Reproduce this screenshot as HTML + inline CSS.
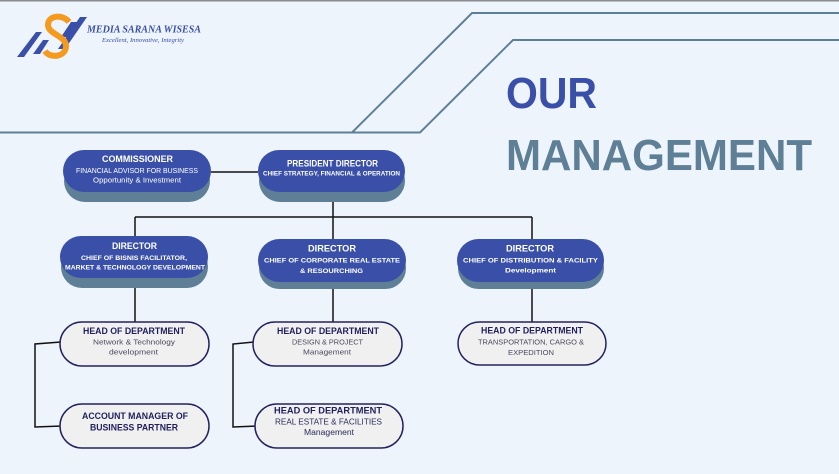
<!DOCTYPE html>
<html><head><meta charset="utf-8"><style>
html,body{margin:0;padding:0;background:#edf4fb;}
svg{display:block;}
</style></head><body>
<svg width="839" height="474" viewBox="0 0 839 474" xmlns="http://www.w3.org/2000/svg" font-family="Liberation Sans, sans-serif">
<rect x="0" y="0" width="839" height="474" fill="#edf4fb"/>
<rect x="0" y="0" width="839" height="1.5" fill="#8a8d90"/>
<!-- decorative lines -->
<path d="M0 132.5 H420 L513 40 H839" fill="none" stroke="#5f7f96" stroke-width="2"/>
<path d="M352 132.5 L472 13 H839" fill="none" stroke="#5f7f96" stroke-width="2"/>
<!-- logo -->
<polygon points="17,57 24,57 42,32 36,32" fill="#3a4fa8"/>
<polygon points="33,54 40,54 49,40 43,40" fill="#3a4fa8"/>
<polygon points="58,49 65,49 87,17 80,17" fill="#3a4fa8"/>
<polygon points="61,37 67,37 77,22 71,22" fill="#3a4fa8"/>
<path d="M69 22 C63 14,48 15,48 25 C48 34,66 36,66 46 C66 57,50 59,45 51" fill="none" stroke="#f39a1f" stroke-width="6"/>
<text x="87" y="32.5" style="font-family:'Liberation Serif',serif" font-style="italic" font-weight="bold" font-size="11" fill="#3a4fa8" textLength="114" lengthAdjust="spacingAndGlyphs">MEDIA SARANA WISESA</text>
<text x="102" y="42" style="font-family:'Liberation Serif',serif" font-style="italic" font-size="6.5" fill="#3a4fa8" textLength="82" lengthAdjust="spacingAndGlyphs">Excellent, Innovative, Integrity</text>
<!-- title -->
<text x="506" y="108" font-weight="bold" font-size="44" fill="#3a4fa8" textLength="91" lengthAdjust="spacingAndGlyphs">OUR</text>
<text x="506" y="170" font-weight="bold" font-size="44" fill="#5f7f96" textLength="306" lengthAdjust="spacingAndGlyphs">MANAGEMENT</text>
<!-- connectors -->
<g stroke="#111" stroke-width="1.5" fill="none">
<line x1="211" y1="172" x2="258" y2="172"/>
<line x1="333" y1="200" x2="333" y2="217"/>
<line x1="135" y1="217" x2="532" y2="217"/>
<line x1="135" y1="217" x2="135" y2="237"/>
<line x1="333" y1="217" x2="333" y2="240"/>
<line x1="532" y1="217" x2="532" y2="240"/>
<line x1="135" y1="287" x2="135" y2="322"/>
<line x1="333" y1="288" x2="333" y2="322"/>
<line x1="532" y1="288" x2="532" y2="322"/>
<polyline points="61,342 35,344 35,427 62,426"/>
<polyline points="254,342 233,344 233,427 257,426"/>
</g>
<!-- blue boxes with shadows -->
<g fill="#5f7f96">
<rect x="64" y="160" width="146" height="42" rx="21"/>
<rect x="259" y="160" width="146" height="42" rx="21"/>
<rect x="61" y="246" width="147" height="42" rx="21"/>
<rect x="259" y="248" width="147" height="41" rx="20.5"/>
<rect x="458" y="248" width="146" height="41" rx="20.5"/>
</g>
<g fill="#3a50a8">
<rect x="63" y="150" width="148" height="42" rx="21"/>
<rect x="258" y="150" width="147" height="42" rx="21"/>
<rect x="60" y="236" width="148" height="42" rx="21"/>
<rect x="258" y="239" width="148" height="43" rx="21.5"/>
<rect x="457" y="239" width="147" height="43" rx="21.5"/>
</g>
<!-- head boxes -->
<g fill="#f1f0f0" stroke="#24235e" stroke-width="1.5">
<rect x="60" y="322" width="149" height="44" rx="22"/>
<rect x="253" y="322" width="149" height="44" rx="22"/>
<rect x="458" y="322" width="148" height="43" rx="21.5"/>
<rect x="60" y="404" width="149" height="44" rx="22"/>
<rect x="255" y="404" width="148" height="44" rx="22"/>
</g>
<!-- blue box text -->
<g fill="#ffffff" font-weight="bold">
<text x="102" y="162" font-size="9.5" textLength="71" lengthAdjust="spacingAndGlyphs">COMMISSIONER</text>
<text x="76" y="173" font-size="7" font-weight="normal" textLength="122" lengthAdjust="spacingAndGlyphs">FINANCIAL ADVISOR FOR BUSINESS</text>
<text x="93" y="182.5" font-size="7" font-weight="normal" textLength="88" lengthAdjust="spacingAndGlyphs">Opportunity &amp; Investment</text>
<text x="287" y="166.5" font-size="9.5" textLength="91" lengthAdjust="spacingAndGlyphs">PRESIDENT DIRECTOR</text>
<text x="263" y="175.5" font-size="6.5" textLength="137" lengthAdjust="spacingAndGlyphs">CHIEF STRATEGY, FINANCIAL &amp; OPERATION</text>
<text x="112" y="249" font-size="9.5" textLength="45" lengthAdjust="spacingAndGlyphs">DIRECTOR</text>
<text x="81" y="260" font-size="6.8" textLength="106" lengthAdjust="spacingAndGlyphs">CHIEF OF BISNIS FACILITATOR,</text>
<text x="65" y="269.5" font-size="6.8" textLength="140" lengthAdjust="spacingAndGlyphs">MARKET &amp; TECHNOLOGY DEVELOPMENT</text>
<text x="308" y="251.5" font-size="9.5" textLength="48" lengthAdjust="spacingAndGlyphs">DIRECTOR</text>
<text x="264" y="262.5" font-size="6.8" textLength="136" lengthAdjust="spacingAndGlyphs">CHIEF OF CORPORATE REAL ESTATE</text>
<text x="300" y="273" font-size="6.8" textLength="63" lengthAdjust="spacingAndGlyphs">&amp; RESOURCHING</text>
<text x="506" y="251.5" font-size="9.5" textLength="48" lengthAdjust="spacingAndGlyphs">DIRECTOR</text>
<text x="463" y="262.5" font-size="6.8" textLength="135" lengthAdjust="spacingAndGlyphs">CHIEF OF DISTRIBUTION &amp; FACILITY</text>
<text x="505" y="272.5" font-size="6.8" textLength="51" lengthAdjust="spacingAndGlyphs">Development</text>
</g>
<!-- head text -->
<g fill="#1f1f5c" font-weight="bold" font-size="9.5">
<text x="83" y="334" textLength="102" lengthAdjust="spacingAndGlyphs">HEAD OF DEPARTMENT</text>
<text x="277" y="334" textLength="102" lengthAdjust="spacingAndGlyphs">HEAD OF DEPARTMENT</text>
<text x="481" y="333.5" textLength="102" lengthAdjust="spacingAndGlyphs">HEAD OF DEPARTMENT</text>
<text x="82" y="419" textLength="106" lengthAdjust="spacingAndGlyphs">ACCOUNT MANAGER OF</text>
<text x="90" y="430.5" textLength="88" lengthAdjust="spacingAndGlyphs">BUSINESS PARTNER</text>
<text x="274" y="413.5" textLength="108" lengthAdjust="spacingAndGlyphs">HEAD OF DEPARTMENT</text>
</g>
<g fill="#4a4a5e" font-size="7.3">
<text x="93" y="344.5" textLength="82" lengthAdjust="spacingAndGlyphs">Network &amp; Technology</text>
<text x="109" y="354.5" textLength="49" lengthAdjust="spacingAndGlyphs">development</text>
<text x="292" y="344.5" textLength="71" lengthAdjust="spacingAndGlyphs">DESIGN &amp; PROJECT</text>
<text x="303" y="354.5" textLength="48" lengthAdjust="spacingAndGlyphs">Management</text>
<text x="478" y="344.5" textLength="106" lengthAdjust="spacingAndGlyphs">TRANSPORTATION, CARGO &amp;</text>
<text x="508" y="355" textLength="46" lengthAdjust="spacingAndGlyphs">EXPEDITION</text>
<text x="275" y="424.5" font-size="8" fill="#2a2a5a" textLength="107" lengthAdjust="spacingAndGlyphs">REAL ESTATE &amp; FACILITIES</text>
<text x="304" y="435" font-size="8" fill="#2a2a5a" textLength="50" lengthAdjust="spacingAndGlyphs">Management</text>
</g>
</svg>
</body></html>
